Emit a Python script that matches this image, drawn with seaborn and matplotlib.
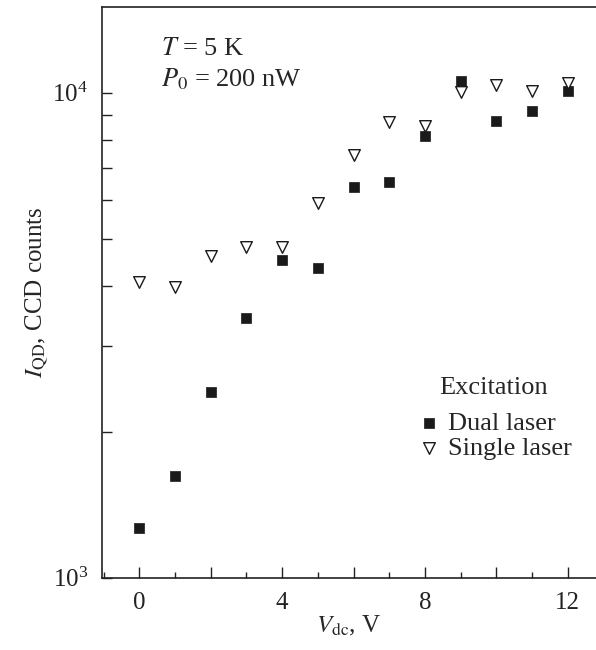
import seaborn as sns
import matplotlib.pyplot as plt
import pandas as pd
from matplotlib.ticker import MultipleLocator, FuncFormatter, LogLocator, NullFormatter

# values
v_dc = [0, 1, 2, 3, 4, 5, 6, 7, 8, 9, 10, 11, 12]
dual_laser = [1264, 1622, 2415, 3427, 4524, 4348, 6383, 6535, 8152, 10554, 8758, 9144, 10095]
single_laser = [4073, 3977, 4597, 4798, 4810, 5922, 7433, 8716, 8550, 10030, 10352, 10060, 10486]

sns.set_style("ticks")
plt.rcParams["font.family"] = ["Liberation Serif", "DejaVu Serif"]
plt.rcParams["mathtext.fontset"] = "stix"

df = pd.DataFrame({
    "V": v_dc * 2,
    "I": dual_laser + single_laser,
    "excitation": ["Dual laser"] * len(v_dc) + ["Single laser"] * len(v_dc),
})

fig = plt.figure(figsize=(5.96, 6.5), dpi=100)
ax = fig.add_axes([0.171, 0.111, 0.829, 0.878])

# dual laser: filled squares
sns.scatterplot(data=df[df.excitation == "Dual laser"], x="V", y="I", ax=ax,
                marker="s", s=60, color="#1a1a1a", edgecolor="#1a1a1a",
                linewidth=0.5, label="Dual laser", zorder=3)
# single laser: open down triangles
sns.scatterplot(data=df[df.excitation == "Single laser"], x="V", y="I", ax=ax,
                marker="v", s=70, facecolor="white", edgecolor="#1a1a1a",
                linewidth=1.0, label="Single laser", zorder=4)

ax.set_yscale("log")
ax.set_ylim(1000, 15000)
ax.set_xlim(-1.05, 12.79)

ax.xaxis.set_major_locator(MultipleLocator(2))
ax.xaxis.set_minor_locator(MultipleLocator(1))
ax.xaxis.set_major_formatter(FuncFormatter(lambda v, p: f"{int(v)}" if int(round(v)) % 4 == 0 else ""))
ax.yaxis.set_major_locator(LogLocator(base=10))
ax.yaxis.set_minor_locator(LogLocator(base=10, subs=range(2, 10)))
ax.yaxis.set_minor_formatter(NullFormatter())

ax.tick_params(axis="both", which="both", direction="in", colors="#222222",
               labelsize=18, width=1.0)
ax.tick_params(axis="x", which="major", length=8, pad=10)
ax.tick_params(axis="x", which="minor", length=4)
ax.tick_params(axis="y", which="both", length=7, pad=10)
ax.tick_params(top=False, right=False, which="both")

for side in ["left", "bottom", "top"]:
    ax.spines[side].set_linewidth(1.2)
    ax.spines[side].set_color("#222222")
ax.spines["right"].set_visible(False)

ax.set_xlabel(r"$V_{\mathrm{dc}}$, V", fontsize=18, labelpad=0)
ax.set_ylabel(r"$I_{\mathrm{QD}}$, CCD counts", fontsize=18, labelpad=2)

ax.text(0.12, 0.926, r"$T$ = 5 K", transform=ax.transAxes, fontsize=19, va="center")
ax.text(0.12, 0.874, r"$P_0$ = 200 nW", transform=ax.transAxes, fontsize=19, va="center")

leg = ax.legend(title="Excitation", loc="upper left", bbox_to_anchor=(0.614, 0.37),
                frameon=False, fontsize=19, title_fontsize=19,
                handlelength=1.0, handletextpad=0.2, labelspacing=0.05,
                borderaxespad=0)
# a bit more room under the title
leg._legend_box.sep = 9

fig.savefig("out.png", dpi=100)
